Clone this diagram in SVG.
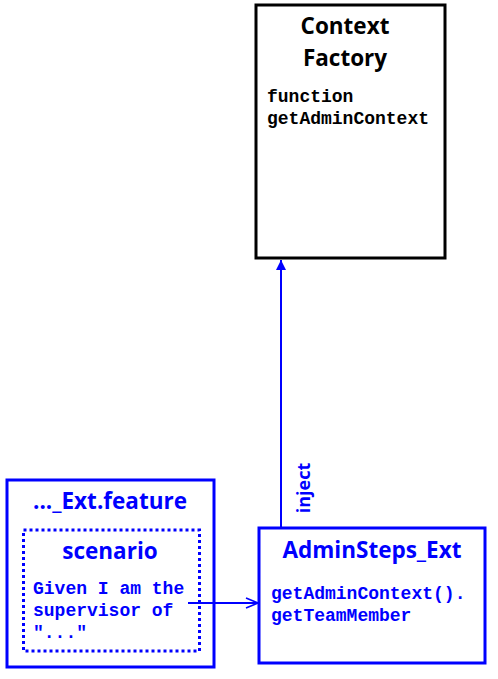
<svg xmlns="http://www.w3.org/2000/svg" width="498" height="679" viewBox="0 0 498 679">
<defs>
<style>
.title{font-family:"Open Sans","Liberation Sans",sans-serif;font-weight:bold;font-size:22.5px;text-anchor:middle}
.code{font-family:"Liberation Mono","Courier New",monospace;font-weight:bold;font-size:18px}
.blue{fill:#0000ff}
.blk{fill:#000}
</style>
<marker id="tri" markerWidth="10" markerHeight="10" refX="10" refY="5" orient="auto" markerUnits="userSpaceOnUse" viewBox="0 0 10 10">
<path d="M0,0 L10,5 L0,10 Z" fill="#0000ff"/>
</marker>
<marker id="open" markerWidth="14" markerHeight="12" refX="13" refY="6" orient="auto" markerUnits="userSpaceOnUse" viewBox="0 0 14 12">
<path d="M1,1 L13,6 L1,11" fill="none" stroke="#0000ff" stroke-width="1.6"/>
</marker>
</defs>
<rect width="498" height="679" fill="#fff"/>
<g id="context-factory">
<rect x="256" y="5" width="189" height="253" fill="#fff" stroke="#000" stroke-width="3"/>
<text class="title blk" x="345" y="34">Context</text>
<text class="title blk" x="345" y="66">Factory</text>
<text class="code blk" x="267" y="102">function</text>
<text class="code blk" x="267" y="124">getAdminContext</text>
</g>
<g id="feature">
<rect x="7" y="480" width="207" height="187" fill="#fff" stroke="#0000ff" stroke-width="3"/>
<text class="title blue" x="110" y="509">..._Ext.feature</text>
<rect x="23.5" y="530" width="176" height="121" fill="none" stroke="#0000ff" stroke-width="3" stroke-dasharray="3 3"/>
<text class="title blue" x="110" y="559">scenario</text>
<text class="code blue" x="33" y="594">Given I am the</text>
<text class="code blue" x="33" y="616">supervisor of</text>
<text class="code blue" x="33" y="638">"..."</text>
</g>
<g id="admin-steps">
<rect x="259" y="528" width="226" height="135" fill="#fff" stroke="#0000ff" stroke-width="3"/>
<text class="title blue" x="372" y="558">AdminSteps_Ext</text>
<text class="code blue" x="271" y="599">getAdminContext().</text>
<text class="code blue" x="271" y="621">getTeamMember</text>
</g>
<g id="connectors">
<line x1="281" y1="527" x2="281" y2="260" stroke="#0000ff" stroke-width="2" marker-end="url(#tri)"/>
<text class="title blue" transform="translate(310,488) rotate(-90)" style="font-size:18px">inject</text>
<line x1="188" y1="603" x2="258" y2="603" stroke="#0000ff" stroke-width="2" marker-end="url(#open)"/>
</g>
</svg>
